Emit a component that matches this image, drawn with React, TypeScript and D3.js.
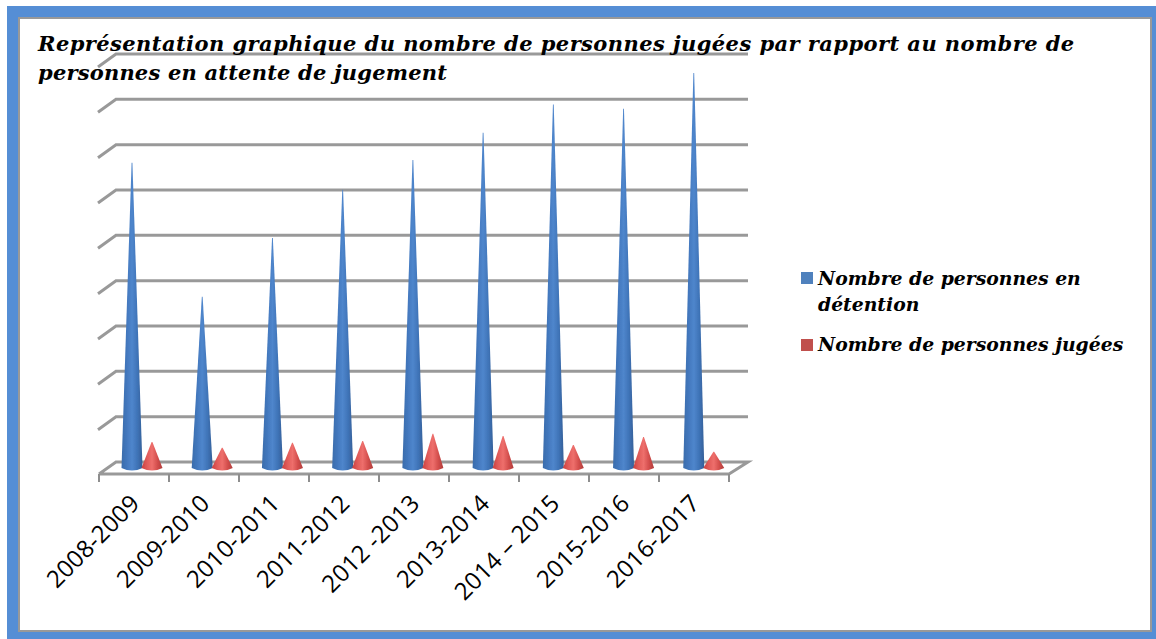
import * as d3 from "d3";

const years = ["2008-2009", "2009-2010", "2010-2011", "2011-2012", "2012 -2013", "2013-2014", "2014 – 2015", "2015-2016", "2016-2017"];
const detained = [6780, 3820, 5120, 6180, 6840, 7440, 8060, 7970, 8760];
const judged = [620, 490, 600, 640, 800, 750, 550, 730, 400];
const gridTicks = [0, 1000, 2000, 3000, 4000, 5000, 6000, 7000, 8000, 9000];
const titleLines = [
  "Représentation graphique du nombre de personnes jugées par rapport au nombre de",
  "personnes en attente de jugement",
];
const titleSpacing = [0.43, 0.2];

const serif = "'DejaVu Serif', serif";

const x = d3.scaleBand<string>().domain(years).range([99, 729]);
// cones drift a little from the tick spacing in the 3d projection
const coneX = d3.scaleBand<string>().domain(years).range([99, 731]);
const y = d3.scaleLinear().domain([0, 9000]).range([462, 54]);

// depth of the 3d floor, in px
const depthX = 17;
const depthY = 13;
const coneDrop = 8;
const coneRadius = 10.5;

function conePath(cx: number, value: number) {
  const base = y(0) + coneDrop - 2;
  const p = d3.path();
  p.moveTo(cx - coneRadius, base);
  p.lineTo(cx - 0.4, y(value) + coneDrop);
  p.lineTo(cx + 0.4, y(value) + coneDrop);
  p.lineTo(cx + coneRadius, base);
  p.quadraticCurveTo(cx, base + 5, cx - coneRadius, base);
  p.closePath();
  return p.toString();
}

function Gradient({ id, stops }: { id: string; stops: string[] }) {
  return (
    <linearGradient id={id} x1="0" x2="1" y1="0" y2="0">
      {stops.map((c, i) => (
        <stop key={i} offset={i / (stops.length - 1)} stopColor={c} />
      ))}
    </linearGradient>
  );
}

export default function App() {
  const x0 = x.range()[0];
  const x1 = x.range()[1];
  const bw = x.bandwidth();
  const floorY = y(0) + depthY - 1;
  const edges = d3.range(years.length + 1).map((i) => x0 + i * bw);

  return (
    <svg width={1156} height={639} style={{ position: "absolute", left: 0, top: 0 }}>
      <defs>
        <Gradient id="blueCone" stops={["#3a6cab", "#4277bd", "#4f86cc", "#3f74b8", "#355f98"]} />
        <Gradient id="redCone" stops={["#c9403e", "#e05a58", "#ee6f6c", "#d44f4d", "#b03c3a"]} />
        <filter id="soft" x="-5%" y="-5%" width="110%" height="110%">
          <feGaussianBlur stdDeviation="0.5" />
        </filter>
      </defs>

      {/* frame */}
      <rect x={7} y={6} width={1149} height={633} fill="#558ed5" />
      <rect x={19} y={18} width={1132} height={613} fill="#ffffff" stroke="#999999" strokeWidth={2} />

      {/* walls */}
      <g fill="none" stroke="#8e8e8e" strokeWidth={3} opacity={0.9} filter="url(#soft)">
        {gridTicks.map((t) => (
          <path
            key={t}
            d={
              t === 0
                ? `M${x0},${floorY}L${x0 + depthX},${y(0)}H${x1 + 19}L${x1},${floorY}H${x0}`
                : `M${x0 - 1},${y(t) + depthY}L${x0 + depthX},${y(t)}H${x1 + 19}`
            }
          />
        ))}
      </g>

      {/* category ticks */}
      <g stroke="#8e8e8e" strokeWidth={2}>
        {edges.map((e) => (
          <line key={e} x1={e} x2={e} y1={floorY} y2={floorY + 8} />
        ))}
      </g>

      {/* cones */}
      <g filter="url(#soft)">
        {years.map((year, i) => (
          <g key={year}>
            <path d={conePath(coneX(year)! + 33, detained[i])} fill="url(#blueCone)" />
            <path d={conePath(coneX(year)! + 53, judged[i])} fill="url(#redCone)" />
          </g>
        ))}
      </g>

      {/* category labels */}
      <g fontFamily="'Open Sans', sans-serif" fontSize={24} letterSpacing={0.2} fill="#000">
        {years.map((year) => (
          <text
            key={year}
            textAnchor="end"
            transform={`translate(${x(year)! + 42},${floorY + 31}) rotate(-45)`}
          >
            {year}
          </text>
        ))}
      </g>

      {/* title */}
      <g fontFamily={serif} fontWeight="bold" fontStyle="italic" fontSize={21} fill="#000">
        {titleLines.map((line, i) => (
          <text key={i} x={38} y={51 + i * 29} letterSpacing={titleSpacing[i]}>
            {line}
          </text>
        ))}
      </g>

      {/* legend */}
      <rect x={801} y={272} width={12} height={12} fill="#4f81bd" />
      <rect x={801} y={339} width={12} height={12} fill="#c0504d" />
      <g fontFamily={serif} fontWeight="bold" fontStyle="italic" fontSize={18.8} fill="#000">
        <text x={818} y={285}>Nombre de personnes en</text>
        <text x={818} y={311}>détention</text>
        <text x={818} y={351}>Nombre de personnes jugées</text>
      </g>
    </svg>
  );
}
